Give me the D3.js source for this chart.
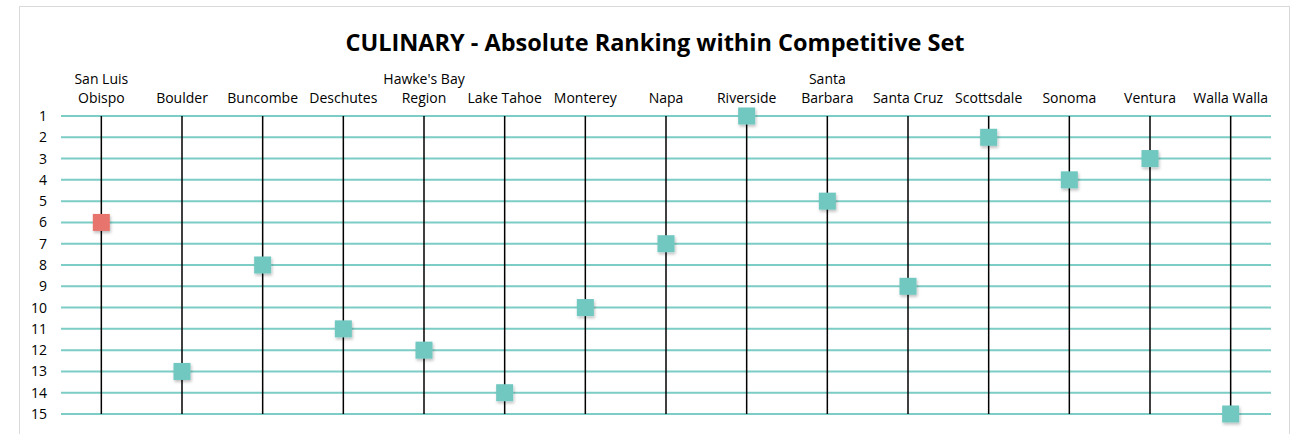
<!DOCTYPE html>
<html>
<head>
<meta charset="utf-8">
<script src="https://cdn.jsdelivr.net/npm/d3@7"></script>
<style>
  body { margin: 0; background: #fff; }
  svg text { font-family: "Open Sans", sans-serif; fill: #000; }
</style>
</head>
<body>
<div id="chart"></div>
<script>
// data
const regions = ["San Luis\nObispo", "Boulder", "Buncombe", "Deschutes", "Hawke's Bay\nRegion",
  "Lake Tahoe", "Monterey", "Napa", "Riverside", "Santa\nBarbara", "Santa Cruz",
  "Scottsdale", "Sonoma", "Ventura", "Walla Walla"];
const ranks = [6, 13, 8, 11, 12, 14, 10, 7, 1, 5, 9, 2, 4, 3, 15];
const highlight = "San Luis\nObispo";
const rankTicks = d3.range(1, 16);

const W = 1296, H = 434;
const margin = {top: 116, right: 25, bottom: 20, left: 61},
    width = W - margin.left - margin.right,
    height = 414 - margin.top;

const svg = d3.select("#chart")
  .append("svg")
    .attr("width", W)
    .attr("height", H);

// drop shadow for markers
const defs = svg.append("defs");
const f = defs.append("filter").attr("id", "shadow")
  .attr("x", "-50%").attr("y", "-50%").attr("width", "200%").attr("height", "200%");
f.append("feDropShadow").attr("dx", 1).attr("dy", 2).attr("stdDeviation", 1.5)
  .attr("flood-color", "#000").attr("flood-opacity", 0.25);

// outer border
svg.append("rect")
  .attr("x", 19.5).attr("y", 6.5)
  .attr("width", 1270).attr("height", 440)
  .attr("fill", "none").attr("stroke", "#d9d9d9");

svg.append("text")
  .attr("x", 655).attr("y", 51)
  .attr("text-anchor", "middle")
  .style("font-size", "23.5px").style("font-weight", "bold")
  .text("CULINARY - Absolute Ranking within Competitive Set");

const g = svg.append("g")
  .attr("transform", `translate(${margin.left}, ${margin.top})`);

const x = d3.scaleBand()
  .domain(regions)
  .range([0, width]);

const y = d3.scaleLinear()
  .domain([1, 15])
  .range([0, height]);

// horizontal rank lines
g.selectAll(".hline")
  .data(rankTicks)
  .enter()
  .append("line")
    .attr("x1", 0).attr("x2", width)
    .attr("y1", d => y(d)).attr("y2", d => y(d))
    .attr("stroke", "#7ccdc5").attr("stroke-width", 2);

// y axis labels
const yAxis = g.append("g")
  .call(d3.axisLeft(y).tickValues(rankTicks).tickSize(0).tickPadding(14));
yAxis.select(".domain").remove();
yAxis.selectAll("text")
  .style("font-size", "14px")
  .style("font-family", "'Open Sans', sans-serif");

// vertical category lines
g.selectAll(".vline")
  .data(regions)
  .enter()
  .append("line")
    .attr("x1", d => x(d) + x.bandwidth() / 2)
    .attr("x2", d => x(d) + x.bandwidth() / 2)
    .attr("y1", y(1)).attr("y2", y(15))
    .attr("stroke", "#000").attr("stroke-width", 1.5);

// category labels on top
g.selectAll(".cat")
  .data(regions)
  .enter()
  .append("text")
    .attr("text-anchor", "middle")
    .attr("transform", d => `translate(${x(d) + x.bandwidth() / 2}, -13)`)
    .style("font-size", "14px")
    .each(function(d) {
      const lines = d.split("\n");
      d3.select(this).selectAll("tspan")
        .data(lines)
        .enter()
        .append("tspan")
          .attr("x", 0)
          .attr("y", (l, i) => (i - (lines.length - 1)) * 19)
          .text(l => l);
    });

// markers
const s = 17;
g.selectAll(".mark")
  .data(regions.map((r, i) => ({r: r, v: ranks[i]})))
  .enter()
  .append("rect")
    .attr("x", d => x(d.r) + x.bandwidth() / 2 - s / 2)
    .attr("y", d => y(d.v) - s / 2)
    .attr("width", s).attr("height", s)
    .attr("fill", d => d.r == highlight ? "#e8756d" : "#6fc8c0")
    .attr("filter", "url(#shadow)");
</script>
</body>
</html>
